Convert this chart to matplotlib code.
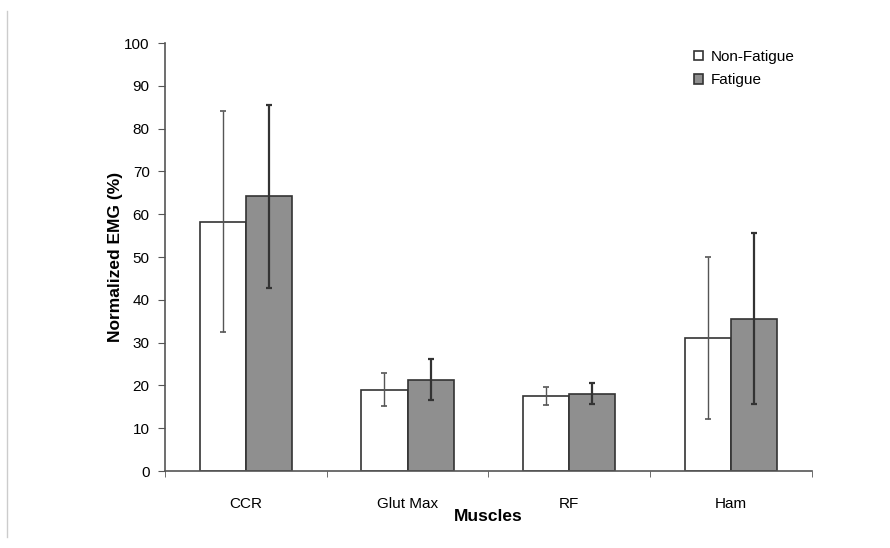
import matplotlib
matplotlib.use('agg')
import matplotlib.pyplot as plt
import numpy as np
from matplotlib.lines import Line2D

plt.rcParams['font.family'] = ['Liberation Sans', 'DejaVu Sans']

muscles = ['CCR', 'Glut Max', 'RF', 'Ham']
non_fatigue = [58.2, 19.0, 17.5, 31.1]
non_fatigue_sd = [25.8, 3.9, 2.1, 19.0]
fatigue = [64.2, 21.3, 18.1, 35.6]
fatigue_sd = [21.4, 4.8, 2.4, 20.0]

fig = plt.figure(figsize=(8.9, 5.48), dpi=100)
ax = fig.add_axes([0.1854, 0.1405, 0.7266, 0.781])

x = np.arange(len(muscles))
w = 0.285

ax.bar(x - w/2, non_fatigue, w, color='white', edgecolor='#333333', linewidth=1.2,
       label='Non-Fatigue', zorder=2)
ax.bar(x + w/2, fatigue, w, color='#8f8f8f', edgecolor='#333333', linewidth=1.2,
       label='Fatigue', zorder=2)
ax.errorbar(x - w/2, non_fatigue, yerr=non_fatigue_sd, fmt='none', ecolor='#555555',
            elinewidth=1.0, capsize=2.5, capthick=1.2, zorder=3)
ax.errorbar(x + w/2, fatigue, yerr=fatigue_sd, fmt='none', ecolor='#333333',
            elinewidth=1.6, capsize=2.5, capthick=1.6, zorder=3)

ax.set_xlim(-0.5, len(muscles) - 0.5)
ax.set_ylim(0, 100)
ax.set_yticks(np.arange(0, 101, 10))
ax.set_xticks(x)
ax.set_xticklabels(muscles, fontsize=11)
ax.set_xticks(np.arange(-0.5, len(muscles)), minor=True)
ax.tick_params(axis='x', which='major', length=0, pad=19)
ax.tick_params(axis='x', which='minor', length=4, direction='out', color='#555555')
ax.tick_params(axis='y', length=5, direction='out', labelsize=11, color='#555555', pad=6)

for s in ['top', 'right']:
    ax.spines[s].set_visible(False)
ax.spines['left'].set_color('#555555')
ax.spines['bottom'].set_color('#555555')
ax.spines['left'].set_linewidth(1.2)
ax.spines['bottom'].set_linewidth(1.2)

ax.set_ylabel('Normalized EMG (%)', fontsize=12.5, fontweight='bold', labelpad=1)
ax.set_xlabel('Muscles', fontsize=12.5, fontweight='bold', labelpad=-2)

ax.legend(loc='upper right', bbox_to_anchor=(0.995, 1.016), frameon=False, fontsize=11,
          handlelength=0.6, handleheight=0.6, handletextpad=0.5, labelspacing=0.6)

# faint frame line at left edge of the figure
fig.add_artist(Line2D([0.008, 0.008], [0.02, 0.98], color='#cccccc', linewidth=1.0))

fig.savefig('out.png', dpi=100)
